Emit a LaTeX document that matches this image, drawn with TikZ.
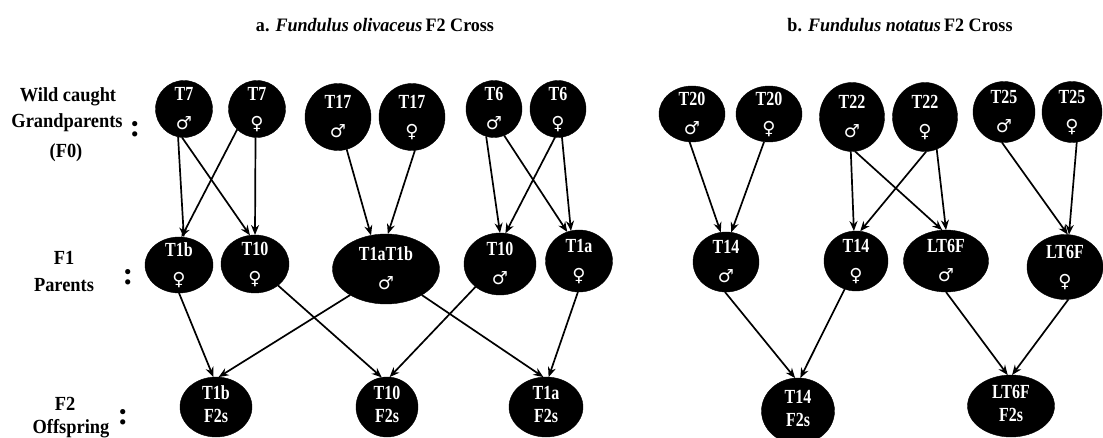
\documentclass[tikz,border=0pt]{standalone}
\usepackage{fontspec}
\setmainfont{Liberation Serif}
\newfontfamily\nodefnt{Liberation Serif}[FakeStretch=0.8]
\newfontfamily\labfnt{Liberation Serif}[FakeStretch=0.92]
\newfontfamily\titfnt{Liberation Serif}[FakeStretch=0.95]
\newfontfamily\symfnt{DejaVu Sans}
\usetikzlibrary{shapes.geometric,arrows.meta}
\newcommand\symM{{\symfnt\bfseries\fontsize{18}{18}\selectfont ♂}}
\newcommand\symF{{\symfnt\bfseries\fontsize{18}{18}\selectfont ♀}}
\newcommand\fishtxt[2]{\raisebox{-5pt}[0pt][0pt]{\begin{tabular}{@{}c@{}}#1\\#2\end{tabular}}}
\tikzset{
  fish/.style={ellipse, fill=black, draw=black, text=white, inner sep=0pt, outer sep=0pt,
    font=\nodefnt\bfseries\fontsize{20}{29}\selectfont},
  offs/.style={fish, font=\nodefnt\bfseries\fontsize{20}{23}\selectfont},
  arr/.style={-{Stealth[length=10pt,width=8pt]}, line width=1.7pt, black},
  lab/.style={font=\labfnt\bfseries\fontsize{20}{27}\selectfont, anchor=base, inner sep=0pt},
  colon/.style={font=\bfseries\fontsize{32}{32}\selectfont, anchor=base, inner sep=0pt},
  ttl/.style={font=\titfnt\bfseries\fontsize{19}{22}\selectfont, inner sep=0pt},
}
\begin{document}
\begin{tikzpicture}[x=1pt,y=-1pt]
\useasboundingbox (0,0) rectangle (1103,438);
% titles
\node[ttl] (ta) at (375,25) {a. \textit{Fundulus olivaceus}\,F2 Cross};
\node[ttl] (tb) at (900,25) {b. \textit{Fundulus notatus}\,F2 Cross};
% row labels
\node[lab] (lw1) at (68,102) {Wild caught};
\node[lab] (lw2) at (67,128) {Grandparents};
\node[lab] (lw3) at (66,158) {(F0)};
\node[colon] (c0) at (135,137) {:};
\node[lab] (lp1) at (64,265) {F1};
\node[lab] (lp2) at (64,292) {Parents};
\node[colon] (c1) at (128,285) {:};
\node[lab] (lo1) at (65,410) {F2};
\node[lab] (lo2) at (71,433) {Offspring};
\node[colon] (c2) at (123,424) {:};
% F0 (a)
\node[fish,minimum width=57pt,minimum height=57pt] (t7m) at (184,109) {\fishtxt{T7}{\symM}};
\node[fish,minimum width=57pt,minimum height=57pt] (t7f) at (257,109) {\fishtxt{T7}{\symF}};
\node[fish,minimum width=66pt,minimum height=67pt] (t17m) at (338,117) {\fishtxt{T17}{\symM}};
\node[fish,minimum width=66pt,minimum height=67pt] (t17f) at (412,117) {\fishtxt{T17}{\symF}};
\node[fish,minimum width=56pt,minimum height=57pt] (t6m) at (494,109) {\fishtxt{T6}{\symM}};
\node[fish,minimum width=56pt,minimum height=57pt] (t6f) at (558,109) {\fishtxt{T6}{\symF}};
% F0 (b)
\node[fish,minimum width=66pt,minimum height=56pt] (t20m) at (692,114) {\fishtxt{T20}{\symM}};
\node[fish,minimum width=66pt,minimum height=56pt] (t20f) at (769,114) {\fishtxt{T20}{\symF}};
\node[fish,minimum width=65pt,minimum height=69pt] (t22m) at (852,117) {\fishtxt{T22}{\symM}};
\node[fish,minimum width=65pt,minimum height=69pt] (t22f) at (925,117) {\fishtxt{T22}{\symF}};
\node[fish,minimum width=62pt,minimum height=61pt] (t25m) at (1004,112) {\fishtxt{T25}{\symM}};
\node[fish,minimum width=60pt,minimum height=61pt] (t25f) at (1072,112) {\fishtxt{T25}{\symF}};
% F1 (a)
\node[fish,minimum width=68pt,minimum height=56pt] (t1b) at (179,265) {\fishtxt{T1b}{\symF}};
\node[fish,minimum width=68pt,minimum height=58pt] (t10f) at (255,264) {\fishtxt{T10}{\symF}};
\node[fish,minimum width=107pt,minimum height=70pt] (t1ab) at (386,269) {\fishtxt{T1aT1b}{\symM}};
\node[fish,minimum width=72pt,minimum height=62pt] (t10m) at (500,264) {\fishtxt{T10}{\symM}};
\node[fish,minimum width=67pt,minimum height=62pt] (t1a) at (579,261) {\fishtxt{T1a}{\symF}};
% F1 (b)
\node[fish,minimum width=66pt,minimum height=60pt] (t14m) at (726,262) {\fishtxt{T14}{\symM}};
\node[fish,minimum width=64pt,minimum height=60pt] (t14f) at (856,261) {\fishtxt{T14}{\symF}};
\node[fish,minimum width=85pt,minimum height=62pt] (lt6m) at (946,261) {\fishtxt{LT6F}{\symM}};
\node[fish,minimum width=76pt,minimum height=65pt] (lt6f) at (1065,267) {\fishtxt{LT6F}{\symF}};
% F2
\node[offs,minimum width=72pt,minimum height=60pt] (t1bF) at (216,407) {\fishtxt{T1b}{F2s}};
\node[offs,minimum width=62pt,minimum height=60pt] (t10F) at (387,407) {\fishtxt{T10}{F2s}};
\node[offs,minimum width=74pt,minimum height=60pt] (t1aF) at (546,407) {\fishtxt{T1a}{F2s}};
\node[offs,minimum width=73pt,minimum height=66pt] (t14F) at (798,411) {\fishtxt{T14}{F2s}};
\node[offs,minimum width=87pt,minimum height=62pt] (lt6F) at (1011,406) {\fishtxt{LT6F}{F2s}};
% connectors (a)
\draw[arr] (t7m.-102) -- (t1b.80);
\draw[arr] (t7m.-94) -- (t10f.100);
\draw[arr] (t7f.-134) -- (t1b.85);
\draw[arr] (t7f.-93) -- (t10f.90);
\draw[arr] (t17m.-75) -- (t1ab.114);
\draw[arr] (t17f.-85) -- (t1ab.87);
\draw[arr] (t6m.-106) -- (t10m.90);
\draw[arr] (t6m.-69) -- (t1a.112);
\draw[arr] (t6f.-96) -- (t10m.80);
\draw[arr] (t6f.-82) -- (t1a.105);
\draw[arr] (t1b.-90) -- (t1bF.95);
\draw[arr] (t1ab.-144) -- (t1bF.85);
\draw[arr] (t10f.-43) -- (t10F.100);
\draw[arr] (t10m.-137) -- (t10F.85);
\draw[arr] (t1ab.-36) -- (t1aF.95);
\draw[arr] (t1a.-92) -- (t1aF.85);
% connectors (b)
\draw[arr] (t20m.-95) -- (t14m.100);
\draw[arr] (t20f.-100) -- (t14m.80);
\draw[arr] (t22m.-92) -- (t14f.94);
\draw[arr] (t22m.-85) -- (lt6m.97);
\draw[arr] (t22f.-88) -- (t14f.82);
\draw[arr] (t22f.-70) -- (lt6m.90);
\draw[arr] (t25m.-94) -- (lt6f.85);
\draw[arr] (t25f.-81) -- (lt6f.83);
\draw[arr] (t14m.-92) -- (t14F.95);
\draw[arr] (t14f.-112) -- (t14F.86);
\draw[arr] (lt6m.-90) -- (lt6F.96);
\draw[arr] (lt6f.-84) -- (lt6F.88);
\end{tikzpicture}
\end{document}
